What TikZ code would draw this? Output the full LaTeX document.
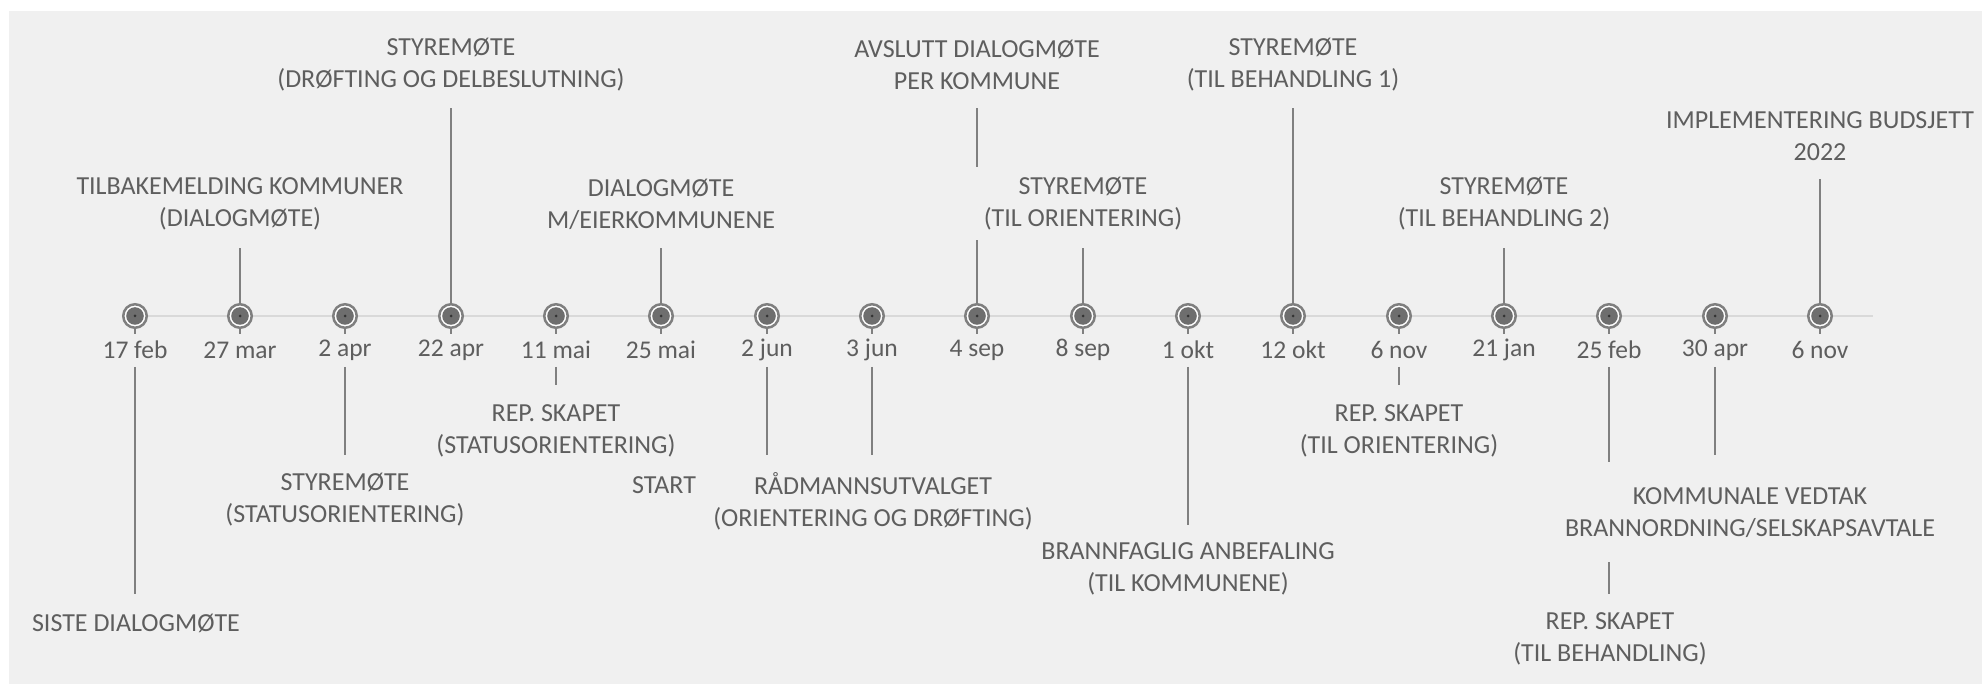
\documentclass[tikz,border=0pt]{standalone}
\usepackage{fontspec}
\setmainfont{Carlito}
\pgfdeclarelayer{back}
\pgfdeclarelayer{lines}
\pgfsetlayers{back,lines,main}
\definecolor{bgc}{HTML}{F0F0F0}
\definecolor{txt}{HTML}{5E5E5E}
\definecolor{axis}{HTML}{D9D9D9}
\definecolor{ringc}{HTML}{7F7F7F}
\definecolor{corec}{HTML}{6E6E6E}
\definecolor{pinc}{HTML}{333333}
\definecolor{conn}{HTML}{808080}
\tikzset{
  ring/.style={circle, draw=ringc, line width=2.5pt, fill=white, minimum size=23.5pt, inner sep=0pt},
  datelbl/.style={text=txt, font=\fontsize{25.5}{30}\selectfont, inner sep=0pt},
  evlbl/.style={text=txt, font=\fontsize{26}{32}\selectfont, align=center, inner sep=0pt},
  connector/.style={draw=conn, line width=1.6pt},
  axisline/.style={draw=axis, line width=2.5pt},
}
\begin{document}
\begin{tikzpicture}[x=1pt, y=-1pt]
\useasboundingbox (0,0) rectangle (1982,684);
\begin{pgfonlayer}{back}
  \fill[bgc] (9,11) rectangle (1982,684);
\end{pgfonlayer}

% markers and dates
\foreach \i/\x/\d in {1/135/17 feb, 2/240/27 mar, 3/345/2 apr, 4/451/22 apr,
  5/556/11 mai, 6/661/25 mai, 7/767/2 jun, 8/872/3 jun, 9/977/4 sep,
  10/1083/8 sep, 11/1188/1 okt, 12/1293/12 okt, 13/1399/6 nov,
  14/1504/21 jan, 15/1609/25 feb, 16/1715/30 apr, 17/1820/6 nov} {
  \node[ring] (m\i) at (\x,316) {};
  \fill[corec] (m\i.center) circle (8.8);
  \fill[pinc] (m\i.center) circle (1.5);
  \node[datelbl] (d\i) at (\x,350) {\d};
  \coordinate (s\i) at (\x,334);
  \begin{pgfonlayer}{lines}
    \draw[connector] (m\i.center) -- (s\i);
  \end{pgfonlayer}
}

% axis
\coordinate (axL) at (135,316);
\coordinate (axR) at (1873,316);
\begin{pgfonlayer}{lines}
  \draw[axisline] (axL) -- (axR);
\end{pgfonlayer}

% labels above
\node[evlbl] (l2)  at (240,204)  {TILBAKEMELDING KOMMUNER\\(DIALOGMØTE)};
\node[evlbl] (l4)  at (451,65)   {STYREMØTE\\(DRØFTING OG DELBESLUTNING)};
\node[evlbl] (l6)  at (661,204)  {DIALOGMØTE\\M/EIERKOMMUNENE};
\node[evlbl] (l9)  at (977,65)   {AVSLUTT DIALOGMØTE\\PER KOMMUNE};
\node[evlbl] (l10) at (1083,204) {STYREMØTE\\(TIL ORIENTERING)};
\node[evlbl] (l12) at (1293,65)  {STYREMØTE\\(TIL BEHANDLING 1)};
\node[evlbl] (l14) at (1504,204) {STYREMØTE\\(TIL BEHANDLING 2)};
\node[evlbl] (l17) at (1820,136) {IMPLEMENTERING BUDSJETT\\2022};

% labels below
\node[evlbl] (l1)  at (136,623)  {SISTE DIALOGMØTE};
\node[evlbl] (l3)  at (345,500)  {STYREMØTE\\(STATUSORIENTERING)};
\node[evlbl] (l5)  at (556,431)  {REP. SKAPET\\(STATUSORIENTERING)};
\node[evlbl] (l6b) at (664,485)  {START};
\node[evlbl] (l8)  at (873,501)  {RÅDMANNSUTVALGET\\(ORIENTERING OG DRØFTING)};
\node[evlbl] (l11) at (1188,569) {BRANNFAGLIG ANBEFALING\\(TIL KOMMUNENE)};
\node[evlbl] (l13) at (1399,431) {REP. SKAPET\\(TIL ORIENTERING)};
\node[evlbl] (l16) at (1750,513) {KOMMUNALE VEDTAK\\BRANNORDNING/SELSKAPSAVTALE};
\node[evlbl] (l15) at (1610,639) {REP. SKAPET\\(TIL BEHANDLING)};

% connector end points
\coordinate (c2)  at (240,248);
\coordinate (c4)  at (451,108);
\coordinate (c6)  at (661,248);
\coordinate (c9a) at (977,240);
\coordinate (c9b) at (977,167);
\coordinate (c9)  at (977,108);
\coordinate (c10) at (1083,248);
\coordinate (c12) at (1293,108);
\coordinate (c14) at (1504,248);
\coordinate (c17) at (1820,179);
\coordinate (c1a) at (135,367);
\coordinate (c1)  at (135,594);
\coordinate (c3a) at (345,367);
\coordinate (c3)  at (345,455);
\coordinate (c5a) at (556,367);
\coordinate (c5)  at (556,385);
\coordinate (c7a) at (767,367);
\coordinate (c7)  at (767,455);
\coordinate (c8a) at (872,367);
\coordinate (c8)  at (872,455);
\coordinate (c11a) at (1188,367);
\coordinate (c11) at (1188,525);
\coordinate (c13a) at (1399,367);
\coordinate (c13) at (1399,385);
\coordinate (c15a) at (1609,367);
\coordinate (c15b) at (1609,462);
\coordinate (c15c) at (1609,562);
\coordinate (c15) at (1609,594);
\coordinate (c16a) at (1715,367);
\coordinate (c16) at (1715,455);

\begin{pgfonlayer}{lines}
  \draw[connector] (m2.center) -- (c2);
  \draw[connector] (m4.center) -- (c4);
  \draw[connector] (m6.center) -- (c6);
  \draw[connector] (m9.center) -- (c9a);
  \draw[connector] (c9b) -- (c9);
  \draw[connector] (m10.center) -- (c10);
  \draw[connector] (m12.center) -- (c12);
  \draw[connector] (m14.center) -- (c14);
  \draw[connector] (m17.center) -- (c17);
  \draw[connector] (c1a) -- (c1);
  \draw[connector] (c3a) -- (c3);
  \draw[connector] (c5a) -- (c5);
  \draw[connector] (c7a) -- (c7);
  \draw[connector] (c8a) -- (c8);
  \draw[connector] (c11a) -- (c11);
  \draw[connector] (c13a) -- (c13);
  \draw[connector] (c15a) -- (c15b);
  \draw[connector] (c15c) -- (c15);
  \draw[connector] (c16a) -- (c16);
\end{pgfonlayer}
\end{tikzpicture}
\end{document}
